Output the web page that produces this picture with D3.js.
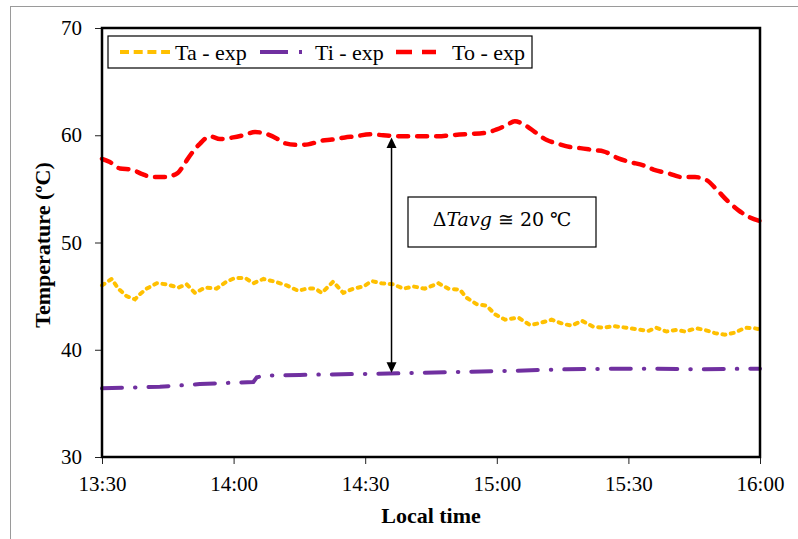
<!DOCTYPE html>
<html>
<head>
<meta charset="utf-8">
<script src="https://cdn.jsdelivr.net/npm/d3@7"></script>
<style>
  body { margin: 0; background: #fff; }
  svg { display: block; }
</style>
</head>
<body>
<div id="chart"></div>
<script>
// minutes after 13:30 and temperatures (ºC)
const taMin = [0,2.2,3.7,5.6,7.5,8.7,10.2,12.5,14.7,17.4,19.3,21.2,23.5,26.1,28.4,30.3,32.6,34.5,36.8,39.4,42.1,44.7,46.7,48.6,50.1,52.7,55.0,57.3,59.6,61.5,63.7,66.4,68.7,71.0,73.6,76.7,78.9,81.6,83.1,85.4,87.7,89.6,91.9,94.9,97.6,99.9,102.5,105.2,107.1,109.4,112.0,114.3,116.6,119.6,122.2,124.5,126.4,128.7,131.0,132.9,135.5,137.4,139.7,142.0,144.3,146.6,148.8,150]
const taVal = [46.0,46.6,45.7,45.0,44.7,45.2,45.7,46.2,46.1,45.8,46.1,45.3,45.8,45.7,46.35,46.7,46.7,46.2,46.6,46.35,46.0,45.5,45.7,45.7,45.3,46.35,45.3,45.7,45.9,46.4,46.2,46.1,45.7,45.9,45.7,46.2,45.7,45.6,44.85,44.25,44.1,43.3,42.8,43.0,42.3,42.5,42.8,42.4,42.25,42.7,42.15,42.05,42.2,42.05,41.9,41.75,42.05,41.7,41.85,41.7,42.0,41.85,41.55,41.4,41.6,42.05,42.0,41.9]

const tiMin = [0,13.2,22.3,26.1,34.5,35.3,37.2,45.1,48.9,60.3,67.9,71.7,83.1,94.5,105.9,119.6,125.7,136.3,150]
const tiVal = [36.4,36.55,36.8,36.87,37.0,37.43,37.6,37.65,37.68,37.75,37.8,37.85,37.95,38.05,38.18,38.24,38.24,38.18,38.24]

const toMin = [0,1.8,4.1,6.8,9.0,11.6,14.4,17.3,18.9,20.4,22.3,24.6,26.9,29.9,32.2,34.9,36.8,39.8,41.7,44.4,47.0,50.1,52.4,55.4,57.7,61.1,64.1,68.7,72.5,76.7,79.3,83.1,87.7,90.0,92.3,94.1,96.4,98.7,101.4,103.6,106.7,109.0,112.4,114.3,117.7,120.4,123.4,125.7,129.1,132.2,135.2,137.9,140.2,142.8,145.1,147.4,150]
const toVal = [57.8,57.5,56.9,56.8,56.4,56.1,56.1,56.5,57.4,58.3,59.2,59.9,59.65,59.8,60.0,60.3,60.2,59.7,59.25,59.1,59.15,59.5,59.6,59.8,59.9,60.1,60.0,59.9,59.9,59.9,60.0,60.1,60.25,60.55,60.95,61.3,60.95,60.3,59.55,59.25,58.9,58.8,58.6,58.5,57.85,57.5,57.2,56.8,56.45,56.1,56.1,55.8,54.9,53.8,53.0,52.4,52.0]

const xTicks = [0,30,60,90,120,150]
const xTickLabels = ["13:30","14:00","14:30","15:00","15:30","16:00"]
const yTicks = [30,40,50,60,70]

const seriesNames = ["Ta - exp","Ti - exp","To - exp"]

// the ΔT arrow: at this minute, between these two temperatures
const arrowMin = 66
const arrowTop = 59.8
const arrowBottom = 37.85

const W = 798, H = 539
const margin = {top: 28, right: 38, bottom: 82, left: 102}
const width = W - margin.left - margin.right
const height = H - margin.top - margin.bottom
const font = "'Liberation Serif', 'Times New Roman', serif"

const svg = d3.select("#chart").append("svg")
    .attr("width", W)
    .attr("height", H)

// outer frame (cut off at right and bottom)
svg.append("rect")
    .attr("x", 10.5).attr("y", 6.5)
    .attr("width", W).attr("height", H)
    .attr("fill", "none")
    .attr("stroke", "#9a9a9a")
    .attr("stroke-width", 1)

const g = svg.append("g")
    .attr("transform", "translate(" + margin.left + "," + margin.top + ")")

const x = d3.scaleLinear().domain([0, 150]).range([0, width])
const y = d3.scaleLinear().domain([30, 70]).range([height, 0])

const xAxis = g.append("g")
    .attr("transform", "translate(0," + height + ")")
    .call(d3.axisBottom(x).tickValues(xTicks).tickSize(7).tickPadding(12)
        .tickFormat((d, i) => xTickLabels[i]))
const yAxis = g.append("g")
    .call(d3.axisLeft(y).tickValues(yTicks).tickSize(7).tickPadding(13))

;[xAxis, yAxis].forEach(a => {
    a.select(".domain").remove()
    a.selectAll(".tick line").attr("stroke", "#222")
    a.selectAll("text")
        .attr("fill", "#000")
        .style("font-family", font)
        .style("font-size", "21px")
})

const pairs = (m, v) => m.map((d, i) => [d, v[i]])

const line = d3.line()
    .x(d => x(d[0]))
    .y(d => y(d[1]))

const styles = [
    {color: "#FFC000", dash: "3,5.5", width: 4, curve: d3.curveLinear, legendDash: "9,4.7", legendLen: 50},
    {color: "#7030A0", dash: "20,13,0.5,13", width: 4, curve: d3.curveLinear, legendDash: "28,11,3,20", legendLen: 42},
    {color: "#FF0000", dash: "10,9", width: 4.5, curve: d3.curveMonotoneX, legendDash: "16,10", legendLen: 40}
]
const series = [pairs(taMin, taVal), pairs(tiMin, tiVal), pairs(toMin, toVal)]

series.forEach((s, i) => {
    g.append("path")
        .datum(s)
        .attr("fill", "none")
        .attr("stroke", styles[i].color)
        .attr("stroke-width", styles[i].width)
        .attr("stroke-linecap", "round")
        .attr("stroke-dasharray", styles[i].dash)
        .attr("d", line.curve(styles[i].curve))
})

// plot border
g.append("rect")
    .attr("width", width).attr("height", height)
    .attr("fill", "none")
    .attr("stroke", "#000")
    .attr("stroke-width", 2.5)

// arrow
const ax = x(arrowMin), ay1 = y(arrowTop), ay2 = y(arrowBottom)
g.append("line")
    .attr("x1", ax).attr("x2", ax)
    .attr("y1", ay1 + 8).attr("y2", ay2 - 8)
    .attr("stroke", "#000").attr("stroke-width", 1.5)
g.append("path")
    .attr("d", "M" + ax + "," + ay1 + "l-5,10.5h10z")
    .attr("fill", "#000")
g.append("path")
    .attr("d", "M" + ax + "," + ay2 + "l-5,-10.5h10z")
    .attr("fill", "#000")

// ΔT box
const box = g.append("g").attr("transform", "translate(" + (408 - margin.left) + "," + (197 - margin.top) + ")")
box.append("rect")
    .attr("width", 188).attr("height", 50)
    .attr("fill", "#fff").attr("stroke", "#000").attr("stroke-width", 1.2)
const bt = box.append("text")
    .attr("x", 94).attr("y", 29)
    .attr("text-anchor", "middle")
    .style("font-family", "'DejaVu Serif', serif")
    .style("font-size", "19px")
bt.append("tspan").text("Δ")
bt.append("tspan").style("font-style", "italic").text("Tavg")
bt.append("tspan").text(" ≅ 20 ℃")

// legend
const legend = g.append("g").attr("transform", "translate(" + (108 - margin.left) + "," + (36 - margin.top) + ")")
legend.append("rect")
    .attr("width", 424).attr("height", 32)
    .attr("fill", "#fff").attr("stroke", "#000").attr("stroke-width", 1.2)
const entryX = [12, 152, 288]
const textX = [67, 207, 344]
seriesNames.forEach((name, i) => {
    legend.append("line")
        .attr("x1", entryX[i]).attr("x2", entryX[i] + styles[i].legendLen)
        .attr("y1", 16).attr("y2", 16)
        .attr("stroke", styles[i].color)
        .attr("stroke-width", styles[i].width)
        .attr("stroke-linecap", "butt")
        .attr("stroke-dasharray", styles[i].legendDash)
    legend.append("text")
        .attr("x", textX[i]).attr("y", 24)
        .style("font-family", font)
        .style("font-size", "22px")
        .text(name)
})

// axis titles
svg.append("text")
    .attr("x", 431).attr("y", 523)
    .attr("text-anchor", "middle")
    .style("font-family", font)
    .style("font-weight", "bold")
    .style("font-size", "22px")
    .text("Local time")
svg.append("text")
    .attr("transform", "translate(50,245) rotate(-90)")
    .attr("text-anchor", "middle")
    .style("font-family", font)
    .style("font-weight", "bold")
    .style("font-size", "22px")
    .text("Temperature (ºC)")
</script>
</body>
</html>
